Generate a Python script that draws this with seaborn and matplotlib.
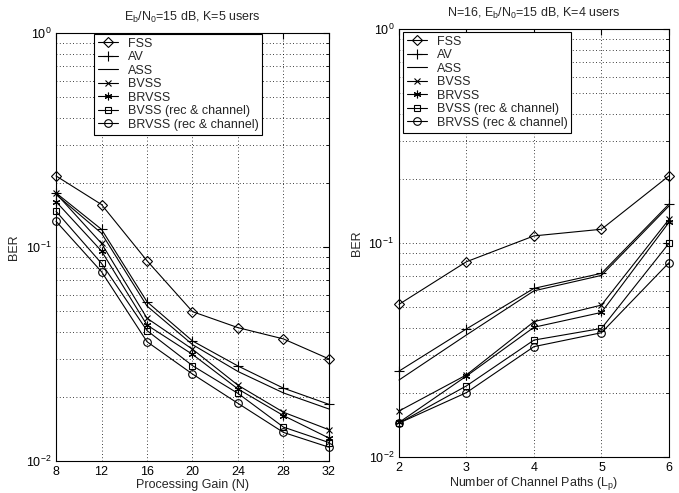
import numpy as np
import pandas as pd
import matplotlib
matplotlib.use("Agg")
import matplotlib.pyplot as plt
import seaborn as sns

# Method names (legend order)
methods = ["FSS", "AV", "ASS", "BVSS", "BRVSS",
           "BVSS (rec & channel)", "BRVSS (rec & channel)"]

# Left panel: BER vs processing gain N (Eb/N0 = 15 dB, K = 5 users)
gain_n = [8, 12, 16, 20, 24, 28, 32]
ber_fss_n = [0.215, 0.158, 0.0863, 0.0499, 0.0420, 0.0372, 0.0300]
ber_av_n = [0.179, 0.121, 0.0555, 0.0364, 0.0278, 0.0219, 0.0184]
ber_ass_n = [0.176, 0.116, 0.0530, 0.0350, 0.0262, 0.0208, 0.0175]
ber_bvss_n = [0.178, 0.104, 0.0465, 0.0333, 0.0226, 0.0169, 0.0140]
ber_brvss_n = [0.163, 0.0958, 0.0432, 0.0315, 0.0217, 0.0163, 0.0128]
ber_bvss_rc_n = [0.147, 0.0839, 0.0407, 0.0279, 0.0207, 0.0144, 0.0122]
ber_brvss_rc_n = [0.132, 0.0767, 0.0361, 0.0255, 0.0186, 0.0136, 0.0116]

# Right panel: BER vs number of channel paths Lp (N = 16, Eb/N0 = 15 dB, K = 4)
paths_lp = [2, 3, 4, 5, 6]
ber_fss_l = [0.0517, 0.0818, 0.108, 0.116, 0.206]
ber_av_l = [0.0252, 0.0397, 0.0614, 0.0722, 0.152]
ber_ass_l = [0.0229, 0.0372, 0.0598, 0.0706, 0.149]
ber_bvss_l = [0.0164, 0.0242, 0.0429, 0.0513, 0.129]
ber_brvss_l = [0.0145, 0.0239, 0.0404, 0.0474, 0.125]
ber_bvss_rc_l = [0.0144, 0.0215, 0.0352, 0.0399, 0.0997]
ber_brvss_rc_l = [0.0144, 0.0200, 0.0328, 0.0381, 0.0809]

# Marker per method (asterisk drawn as a 6-spoke marker)
marker_map = {
    "FSS": "D",
    "AV": "+",
    "ASS": None,
    "BVSS": "x",
    "BRVSS": (6, 2, 0),
    "BVSS (rec & channel)": "s",
    "BRVSS (rec & channel)": "o",
}
size_map = {"D": 5.0, "+": 6.5, "x": 4.5, (6, 2, 0): 5.5, "s": 4.5, "o": 5.5, None: 0}

sns.set_style("white")
plt.rcParams["font.family"] = ["Liberation Sans", "DejaVu Sans"]
plt.rcParams["mathtext.fontset"] = "custom"
plt.rcParams["mathtext.rm"] = "Liberation Sans"
plt.rcParams["mathtext.it"] = "Liberation Sans:italic"

fig = plt.figure(figsize=(6.79, 4.93), dpi=100)
ax1 = fig.add_axes([0.0825, 0.0649, 0.402, 0.868])
ax2 = fig.add_axes([0.5876, 0.0730, 0.3976, 0.868])


def long_frame(x, series):
    rows = []
    for name, vals in zip(methods, series):
        for xi, yi in zip(x, vals):
            rows.append({"x": xi, "BER": yi, "method": name})
    return pd.DataFrame(rows)


def draw_panel(ax, df):
    for name in methods:
        sub = df[df["method"] == name]
        mk = marker_map[name]
        sns.lineplot(data=sub, x="x", y="BER", ax=ax, color="black",
                     linewidth=0.8, marker=mk if mk is not None else "",
                     markersize=size_map[mk], markerfacecolor="none",
                     markeredgecolor="black", markeredgewidth=0.8,
                     label=name, legend=False, clip_on=False)
    ax.set_yscale("log")
    ax.set_ylim(1e-2, 1e0)
    ax.grid(True, which="major", axis="both", color="black",
            linestyle=(0, (1, 3)), linewidth=0.6)
    ax.grid(True, which="minor", axis="y", color="black",
            linestyle=(0, (1, 3)), linewidth=0.6)
    ax.tick_params(which="both", direction="in", top=True, right=True,
                   labelsize=9, colors="black")
    ax.tick_params(which="major", length=4)
    ax.tick_params(which="minor", length=2)
    for sp in ax.spines.values():
        sp.set_color("black")
        sp.set_linewidth(0.8)
    ax.set_ylabel("BER", fontsize=9)


df_n = long_frame(gain_n, [ber_fss_n, ber_av_n, ber_ass_n, ber_bvss_n,
                           ber_brvss_n, ber_bvss_rc_n, ber_brvss_rc_n])
df_l = long_frame(paths_lp, [ber_fss_l, ber_av_l, ber_ass_l, ber_bvss_l,
                             ber_brvss_l, ber_bvss_rc_l, ber_brvss_rc_l])

draw_panel(ax1, df_n)
ax1.set_xlim(8, 32)
ax1.set_xticks(gain_n)
ax1.set_xlabel("Processing Gain (N)", fontsize=9, labelpad=1)
ax1.set_title(r"E$_\mathrm{b}$/N$_\mathrm{0}$=15 dB, K=5 users", fontsize=9, pad=9)

draw_panel(ax2, df_l)
ax2.set_xlim(2, 6)
ax2.set_xticks(paths_lp)
ax2.set_xlabel(r"Number of Channel Paths (L$_\mathrm{p}$)", fontsize=9, labelpad=1)
ax2.set_title(r"N=16, E$_\mathrm{b}$/N$_\mathrm{0}$=15 dB, K=4 users", fontsize=9, pad=9)

for ax, anchor in ((ax1, (0.1384, 0.931)), (ax2, (0.5935, 0.935))):
    leg = ax.legend(loc="upper left", bbox_to_anchor=anchor,
                    bbox_transform=fig.transFigure, fontsize=9,
                    frameon=True, fancybox=False, framealpha=1,
                    edgecolor="black", handlelength=1.6, handletextpad=0.8,
                    borderpad=0.3, labelspacing=0.12, borderaxespad=0)
    leg.get_frame().set_linewidth(0.8)

fig.savefig("out.png", dpi=100)
